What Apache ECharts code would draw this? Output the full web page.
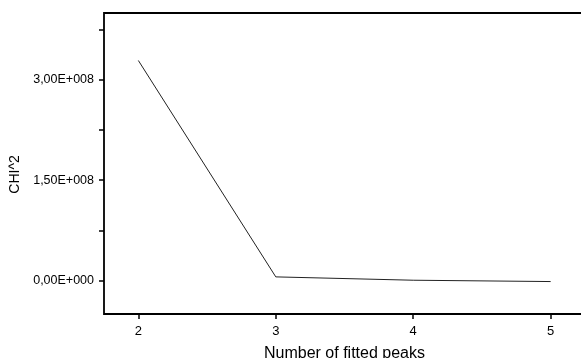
<!DOCTYPE html>
<html>
<head>
<meta charset="utf-8">
<script src="https://cdn.jsdelivr.net/npm/echarts@6/dist/echarts.min.js"></script>
<style>
  html, body { margin: 0; padding: 0; background: #fff; }
  #chart { width: 581px; height: 358px; }
</style>
</head>
<body>
<div id="chart"></div>
<script>
// Goodness of fit versus number of fitted peaks
const peaks = [2, 3, 4, 5];
const chi2 = [3.29e8, 5.5e6, 5e5, -1.5e6];

// Axis ticks and labels
const xTickValues = [2, 3, 4, 5];
const yLabelValues = [0, 1.5e8, 3.0e8];
const yLabelTexts = ['0,00E+000', '1,50E+008', '3,00E+008'];
const yTickValues = [0, 0.75e8, 1.5e8, 2.25e8, 3.0e8, 3.75e8];

const font = 'Liberation Sans, Arial, sans-serif';
const chart = echarts.init(document.getElementById('chart'), null, { renderer: 'canvas' });

chart.setOption({
  animation: false,
  backgroundColor: '#fff',
  grid: {
    left: 104, top: 13, width: 481, height: 301,
    outerBoundsMode: 'none',
    containLabel: false,
    show: true, borderColor: '#000', borderWidth: 1.8, backgroundColor: 'transparent'
  },
  xAxis: {
    type: 'value',
    min: 1.75, max: 5.25,
    name: 'Number of fitted peaks',
    nameLocation: 'middle',
    nameGap: 32,
    nameTextStyle: { fontFamily: font, fontSize: 16, color: '#000' },
    axisLine: { show: false, onZero: false },
    axisTick: { show: true, length: 5, lineStyle: { color: '#000', width: 1.5 }, customValues: xTickValues },
    axisLabel: { fontFamily: font, fontSize: 13, color: '#000', margin: 11, customValues: xTickValues },
    splitLine: { show: false }
  },
  yAxis: {
    type: 'value',
    min: -0.5e8, max: 4.0e8,
    name: 'CHI^2',
    nameLocation: 'middle',
    nameGap: 82,
    nameTextStyle: { fontFamily: font, fontSize: 14, color: '#000', padding: [0, 22, 0, 0] },
    axisLine: { show: false, onZero: false },
    axisTick: { show: true, length: 5, lineStyle: { color: '#000', width: 1.5 }, customValues: yTickValues },
    axisLabel: {
      fontFamily: font, fontSize: 12.5, color: '#000', margin: 10,
      customValues: yLabelValues,
      formatter: function (v) {
        const i = yLabelValues.indexOf(v);
        return i >= 0 ? yLabelTexts[i] : '';
      }
    },
    splitLine: { show: false }
  },
  series: [{
    type: 'line',
    data: peaks.map((p, i) => [p, chi2[i]]),
    showSymbol: false,
    symbol: 'none',
    lineStyle: { color: '#222', width: 1 }
  }]
});
</script>
</body>
</html>
